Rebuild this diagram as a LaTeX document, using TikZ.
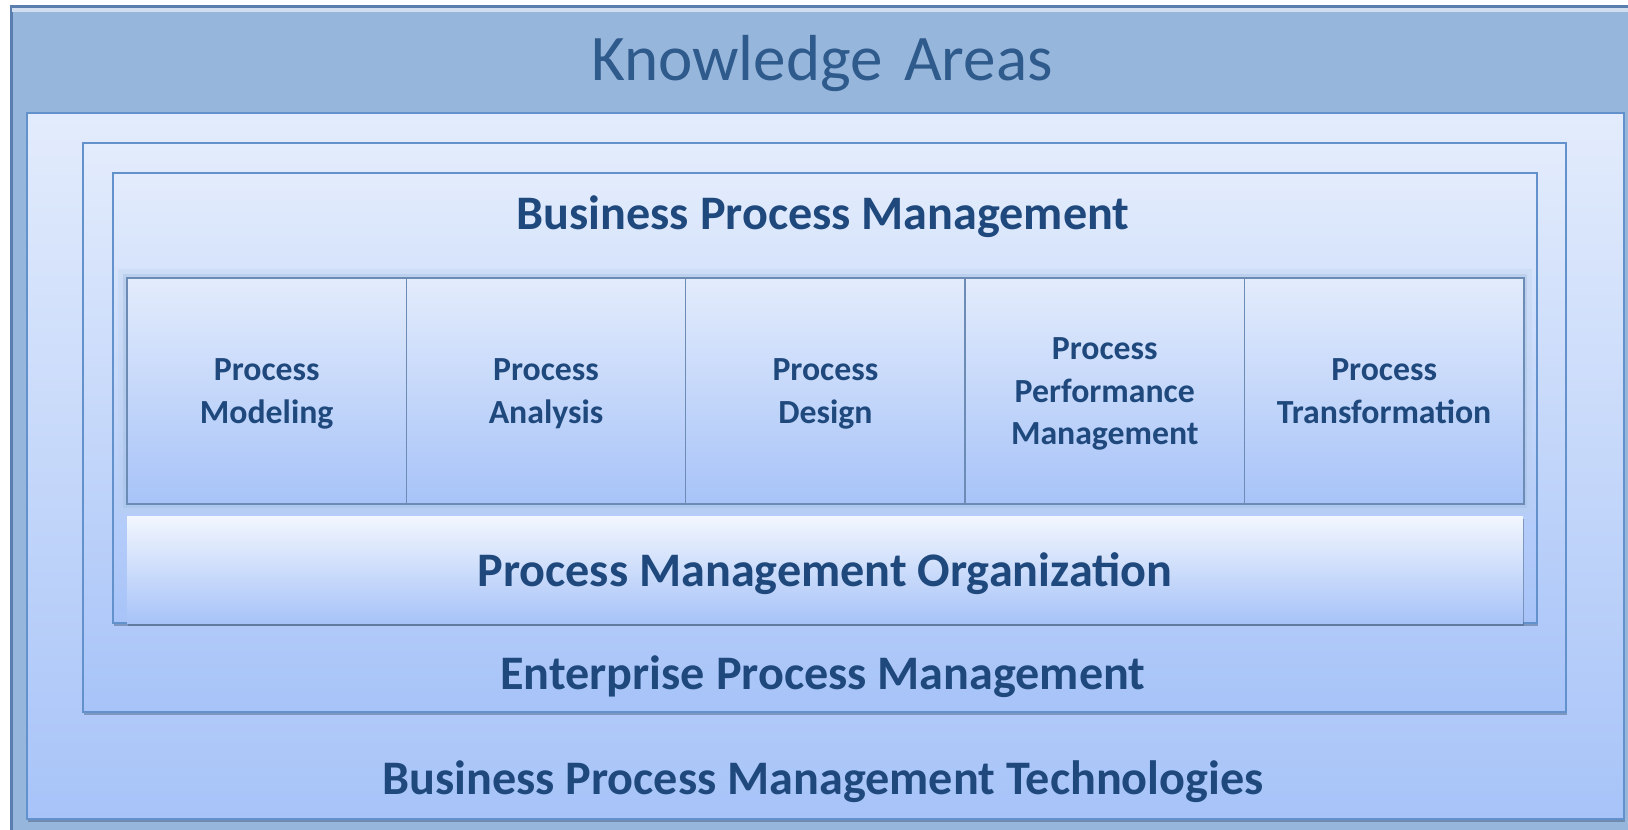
\documentclass[tikz,border=0pt]{standalone}
\usepackage{fontspec}
\setmainfont{Carlito}
\usetikzlibrary{positioning,shadows}
\definecolor{bandblue}{HTML}{97B6DC}
\definecolor{framedark}{HTML}{5A7EAD}
\definecolor{edgeblue}{HTML}{6391CC}
\definecolor{paletop}{HTML}{E3ECFC}
\definecolor{palebot}{HTML}{A7C3F8}
\definecolor{textblue}{HTML}{1F497D}
\definecolor{headblue}{HTML}{2E5A8C}

\begin{document}
\begin{tikzpicture}[x=0.01cm,y=-0.01cm,
  layer/.style={draw=edgeblue,line width=0.6pt,top color=paletop,bottom color=palebot,inner sep=0pt,outer sep=0pt,anchor=north west,
    drop shadow={shadow xshift=0.3pt,shadow yshift=-0.8pt,opacity=0.45,fill=framedark!70!black}},
  area/.style={draw=edgeblue!70!gray,line width=0.4pt,top color=paletop,bottom color=palebot,inner sep=0pt,outer sep=0pt,
    minimum width=2.792cm,minimum height=2.26cm,text width=2.6cm,align=center,text=textblue,
    font=\fontsize{9.6}{12.1}\selectfont\bfseries,
    execute at begin node={\rule{0pt}{7.9pt}},execute at end node={\vphantom{g}}},
  title/.style={text=textblue,font=\fontsize{13.7}{16}\selectfont\bfseries,inner sep=0pt,text depth=0pt}]
\useasboundingbox (0,0) rectangle (1628,829);
\clip (0,0) rectangle (1628,829);
\fill[white] (0,0) rectangle (1628,829);

% outer frame with header band
\node[fill=bandblue,draw=framedark,line width=0.8pt,anchor=north west,inner sep=0pt,minimum width=16.4cm,minimum height=8.5cm] (frame) at (10,5) {};
\draw[white!55!bandblue,line width=1.2pt] (12,10) -- (1628,10);
\node[text=headblue,font=\fontsize{18.5}{22}\selectfont,text depth=0pt] (ka) at (822,58) {Knowledge\hspace{0.33em}Areas};

% nested layers
\node[layer,minimum width=15.96cm,minimum height=7.06cm] (tech) at (27,113) {};
\node[layer,minimum width=14.82cm,minimum height=5.69cm] (ent) at (83,143) {};
\node[layer,minimum width=14.23cm,minimum height=4.50cm] (bpm) at (113,173) {};

\node[title] (bpmlbl) at (823,213) {Business Process Management};
\node[title] (entlbl) at (823,673) {Enterprise Process Management};
\node[title] (techlbl) at (823,778) {Business Process Management Technologies};

% glow round the knowledge areas
\draw[edgeblue!45,line width=5pt,opacity=0.25] (127,278) rectangle (1523,504);
\draw[edgeblue!60,line width=2.5pt,opacity=0.4] (127,278) rectangle (1523,504);

\node[area,anchor=north west] (model) at (127,278) {Process\\Modeling};
\node[area,right=0pt of model] (analysis) {Process\\Analysis};
\node[area,right=0pt of analysis] (design) {Process\\Design};
\node[area,right=0pt of design] (perf) {Process\\Performance\\Management};
\node[area,right=0pt of perf] (transf) {Process\\Transformation};

\node[title,anchor=north west,minimum width=13.95cm,minimum height=1.07cm,outer sep=0pt,top color=white!55!paletop,bottom color=palebot,
  drop shadow={shadow xshift=0.3pt,shadow yshift=-0.8pt,opacity=0.45,fill=framedark!70!black}] (pmo) at (127,516) {Process Management Organization};
\end{tikzpicture}
\end{document}
